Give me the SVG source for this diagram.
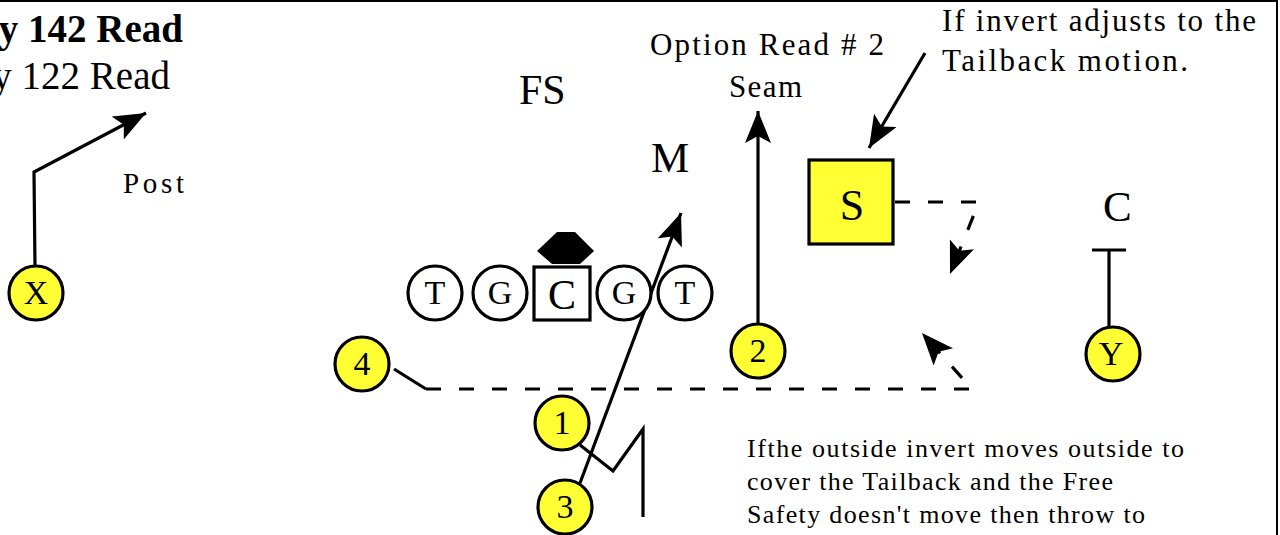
<svg xmlns="http://www.w3.org/2000/svg" width="1280" height="535" viewBox="0 0 1280 535" font-family="Liberation Serif, Times New Roman, serif">
<style>
text{font-family:'Liberation Serif','Times New Roman',serif;fill:#000}
.pl{fill:#ffff33;stroke:#000;stroke-width:3.2}
.ol{fill:#fff;stroke:#000;stroke-width:3.2}
.r{fill:none;stroke:#000;stroke-width:3.2;stroke-linejoin:miter}
.d{fill:none;stroke:#000;stroke-width:3.2;stroke-dasharray:15 18}
.c{text-anchor:middle}
</style>
<defs>
<marker id="ah" markerUnits="userSpaceOnUse" markerWidth="34" markerHeight="28" refX="32" refY="13" orient="auto" viewBox="0 0 34 28">
<path d="M0,0 L32,13 L0,26 L7,13 z" fill="#000"/>
</marker>
</defs>
<rect x="0" y="0" width="1280" height="535" fill="#fff"/>
<g id="frame" stroke="#000" stroke-width="2">
<line x1="0" y1="1" x2="1278" y2="1"/>
<line x1="1277" y1="0" x2="1277" y2="535"/>
</g>
<g id="titles">
<text x="183" y="42" font-size="39" font-weight="bold" text-anchor="end">y 142 Read</text>
<text x="170" y="89" font-size="39" text-anchor="end">y 122 Read</text>
</g>
<g id="labels">
<text x="123" y="193" font-size="29" textLength="61" lengthAdjust="spacing">Post</text>
<text x="519" y="104" font-size="42">FS</text>
<text x="650" y="55" font-size="31" textLength="234" lengthAdjust="spacing">Option Read # 2</text>
<text x="729" y="97" font-size="31" textLength="73" lengthAdjust="spacing">Seam</text>
<text x="651" y="172" font-size="43">M</text>
<text x="1103" y="221" font-size="43">C</text>
<text x="942" y="31" font-size="31" textLength="314" lengthAdjust="spacing">If invert adjusts to the</text>
<text x="942" y="71" font-size="31" textLength="246" lengthAdjust="spacing">Tailback motion.</text>
<text x="747" y="457" font-size="26" textLength="437" lengthAdjust="spacing">Ifthe outside invert moves outside to</text>
<text x="747" y="490" font-size="26" textLength="366" lengthAdjust="spacing">cover the Tailback and the Free</text>
<text x="747" y="523" font-size="26" textLength="398" lengthAdjust="spacing">Safety doesn't move then throw to</text>
</g>
<g id="connectors">
<path class="r" d="M35,267 L34,172 L146,113" marker-end="url(#ah)"/>
<path class="r" d="M758,326 L758,111" marker-end="url(#ah)"/>
<path class="r" d="M580,483 L681,213" marker-end="url(#ah)"/>
<path class="r" d="M580,445 L613,471 L643,429 L643,517"/>
<path class="r" d="M925,53 L869,148" marker-end="url(#ah)"/>
<path class="r" d="M1109,334 L1109,250 M1092,250 L1126,250"/>
<path class="r" d="M394,369 L426,389"/>
<path class="d" d="M426,389 L972,389 L922,333" marker-end="url(#ah)"/>
<path class="d" d="M895,202 L979,202 L950,274" marker-end="url(#ah)"/>
</g>
<g id="line">
<g id="lt"><circle class="ol" cx="435" cy="293" r="27"/><text class="c" x="435" y="304" font-size="34">T</text></g>
<g id="lg"><circle class="ol" cx="500" cy="293" r="27"/><text class="c" x="500" y="304" font-size="34">G</text></g>
<g id="center"><polygon points="537,251 557,232 575,232 594,251 580,264 552,264" fill="#000"/><rect class="ol" x="534" y="267" width="56" height="53"/><text class="c" x="562" y="309" font-size="42">C</text></g>
<g id="rg"><circle class="ol" cx="624" cy="293" r="27"/><text class="c" x="624" y="304" font-size="34">G</text></g>
<g id="rt"><circle class="ol" cx="685" cy="293" r="27"/><text class="c" x="685" y="304" font-size="34">T</text></g>
</g>
<g id="x"><circle class="pl" cx="36" cy="293" r="27"/><text class="c" x="36" y="304" font-size="34">X</text></g>
<g id="p2"><circle class="pl" cx="758" cy="351" r="27"/><text class="c" x="758" y="362" font-size="34">2</text></g>
<g id="p4"><circle class="pl" cx="362" cy="364" r="27"/><text class="c" x="362" y="375" font-size="34">4</text></g>
<g id="p1"><circle class="pl" cx="562" cy="423" r="27"/><text class="c" x="562" y="434" font-size="34">1</text></g>
<g id="p3"><circle class="pl" cx="565" cy="507" r="27"/><text class="c" x="565" y="518" font-size="34">3</text></g>
<g id="y"><circle class="pl" cx="1113" cy="354" r="27"/><text class="c" x="1111" y="365" font-size="34">Y</text></g>
<g id="s"><rect class="pl" x="809" y="160" width="84" height="84"/><text class="c" x="852" y="220" font-size="44">S</text></g>
</svg>
